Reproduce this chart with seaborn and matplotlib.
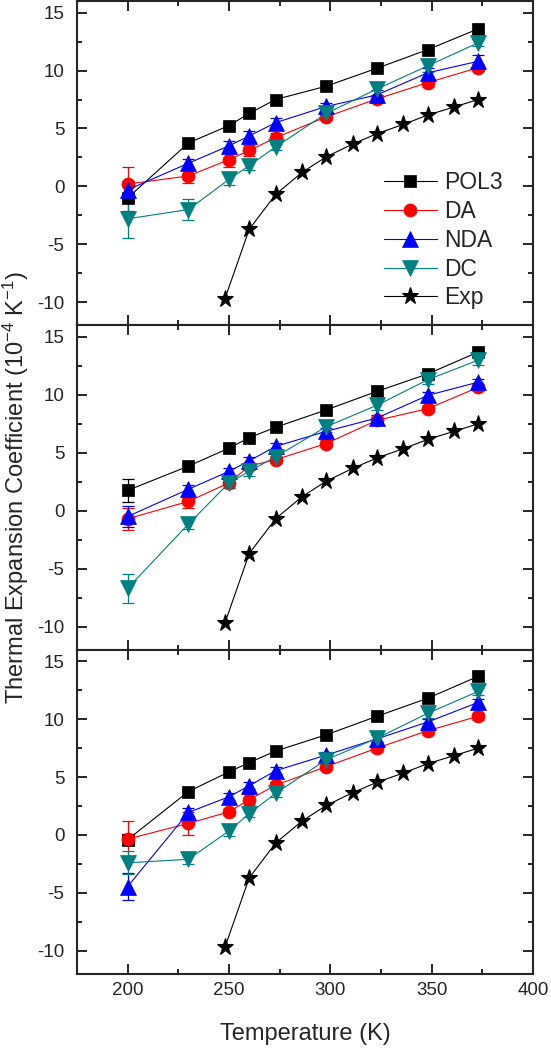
import numpy as np
import matplotlib
matplotlib.use("Agg")
import matplotlib.pyplot as plt
from matplotlib.ticker import MultipleLocator
import seaborn as sns

# temperatures (K)
temps = [200, 230, 250, 260, 273, 298, 323, 348, 373]
temps_exp = [248, 260, 273, 286, 298, 311, 323, 336, 348, 361, 373]

# experiment (same in every panel)
exp_vals = [-9.7, -3.7, -0.7, 1.2, 2.55, 3.65, 4.55, 5.35, 6.15, 6.85, 7.5]

# top panel
pol3_a = [-1.0, 3.75, 5.25, 6.3, 7.5, 8.65, 10.2, 11.8, 13.6]
pol3_a_err = [1.1, 0.2, 0.2, 0.2, 0.2, 0.2, 0.2, 0.2, 0.3]
da_a = [0.2, 0.9, 2.3, 3.1, 4.2, 6.0, 7.55, 8.95, 10.25]
da_a_err = [1.5, 0.6, 0.6, 0.5, 0.4, 0.3, 0.3, 0.4, 0.3]
nda_a = [-0.3, 2.0, 3.5, 4.35, 5.5, 6.9, 7.9, 9.8, 10.8]
nda_a_err = [0.8, 0.4, 0.4, 0.4, 0.4, 0.3, 0.4, 0.4, 0.5]
dc_a = [-2.8, -2.0, 0.6, 1.8, 3.4, 6.3, 8.4, 10.4, 12.4]
dc_a_err = [1.7, 0.9, 0.5, 0.4, 0.3, 0.3, 0.5, 0.5, 0.3]

# middle panel
pol3_b = [1.75, 3.85, 5.4, 6.3, 7.2, 8.7, 10.3, 11.8, 13.7]
pol3_b_err = [1.0, 0.2, 0.2, 0.2, 0.2, 0.2, 0.2, 0.3, 0.3]
da_b = [-0.7, 0.8, 2.4, 3.85, 4.4, 5.8, 7.8, 8.8, 10.65]
da_b_err = [0.95, 0.6, 0.4, 0.3, 0.3, 0.3, 0.3, 0.3, 0.3]
nda_b = [-0.5, 1.85, 3.4, 4.3, 5.55, 6.85, 8.0, 9.95, 11.1]
nda_b_err = [0.9, 0.4, 0.3, 0.3, 0.3, 0.3, 0.3, 0.3, 0.3]
dc_b = [-6.7, -1.15, 2.4, 3.4, 4.65, 7.25, 9.1, 11.3, 13.0]
dc_b_err = [1.25, 0.4, 0.4, 0.4, 0.3, 0.5, 0.4, 0.4, 0.4]

# bottom panel
pol3_c = [-0.4, 3.75, 5.45, 6.25, 7.25, 8.65, 10.25, 11.8, 13.7]
pol3_c_err = [0.5, 0.2, 0.2, 0.2, 0.2, 0.2, 0.2, 0.2, 0.3]
da_c = [-0.35, 1.0, 2.0, 3.05, 4.3, 5.9, 7.5, 9.0, 10.25]
da_c_err = [1.55, 1.0, 0.3, 0.5, 0.3, 0.3, 0.3, 0.4, 0.3]
nda_c = [-4.45, 1.95, 3.3, 4.25, 5.55, 6.9, 8.3, 9.75, 11.45]
nda_c_err = [1.2, 0.4, 0.3, 0.3, 0.3, 0.3, 0.3, 0.3, 0.3]
dc_c = [-2.4, -2.1, 0.35, 1.85, 3.6, 6.5, 8.35, 10.5, 12.4]
dc_c_err = [1.0, 0.4, 0.4, 0.3, 0.3, 0.3, 0.3, 0.4, 0.3]

labels = ["POL3", "DA", "NDA", "DC"]
colors = ["black", "#ff0000", "#0000ff", "#008080"]
markers = ["s", "o", "^", "v"]
msizes = [8.4, 9.4, 11.5, 11.5]

panels = [
    [(pol3_a, pol3_a_err), (da_a, da_a_err), (nda_a, nda_a_err), (dc_a, dc_a_err)],
    [(pol3_b, pol3_b_err), (da_b, da_b_err), (nda_b, nda_b_err), (dc_b, dc_b_err)],
    [(pol3_c, pol3_c_err), (da_c, da_c_err), (nda_c, nda_c_err), (dc_c, dc_c_err)],
]

sns.set_style("ticks")
plt.rcParams["font.family"] = ["Liberation Sans", "DejaVu Sans"]
plt.rcParams["mathtext.default"] = "regular"
plt.rcParams["axes.unicode_minus"] = False

fig, axes = plt.subplots(3, 1, figsize=(5.51, 10.5), dpi=100, sharex=True)
fig.subplots_adjust(left=0.1397, right=0.9673, bottom=0.0724, top=0.999, hspace=0)

for i, ax in enumerate(axes):
    for (vals, errs), lab, col, mk, ms in zip(panels[i], labels, colors, markers, msizes):
        ax.errorbar(temps, vals, yerr=errs, fmt="none", ecolor=col,
                    elinewidth=0.9, capsize=4.5, capthick=0.9, zorder=2)
        sns.lineplot(x=temps, y=vals, ax=ax, color=col, marker=mk, markersize=ms,
                     markeredgecolor=col, markeredgewidth=0.5, linewidth=0.8,
                     label=lab, sort=False, zorder=3, legend=False)
    sns.lineplot(x=temps_exp, y=exp_vals, ax=ax, color="black", marker="*",
                 markersize=12.5, markeredgecolor="black", markeredgewidth=0.8,
                 linewidth=0.8, label="Exp", sort=False, zorder=3, legend=False)

    ax.set_xlim(175, 400)
    ax.set_ylim(-12, 16)
    ax.xaxis.set_major_locator(MultipleLocator(50))
    ax.xaxis.set_minor_locator(MultipleLocator(25))
    ax.yaxis.set_major_locator(MultipleLocator(5))
    ax.yaxis.set_minor_locator(MultipleLocator(2.5))
    ax.tick_params(which="both", direction="in", top=True, right=True, width=1.4)
    ax.tick_params(which="major", length=7.5)
    ax.tick_params(which="minor", length=3.6)
    ax.tick_params(axis="y", labelsize=13.5, pad=9)
    ax.tick_params(axis="x", labelsize=13.5, pad=6)
    for sp in ax.spines.values():
        sp.set_linewidth(1.5)
    ax.set_xlabel("")
    ax.set_ylabel("")

axes[0].legend(loc="center left", bbox_to_anchor=(0.673, 0.262), frameon=False,
               fontsize=16.5, handlelength=2.3, handletextpad=0.33, labelspacing=0.25,
               borderpad=0, borderaxespad=0, numpoints=1)

axes[2].set_xlabel("Temperature (K)", fontsize=17, labelpad=17)
fig.text(16 / 551, 1 - 487.5 / 1050, "Thermal Expansion Coefficient (10$^{-4}$ K$^{-1}$)",
         rotation=90, ha="center", va="center", fontsize=17)

fig.savefig("out.png", dpi=100)
